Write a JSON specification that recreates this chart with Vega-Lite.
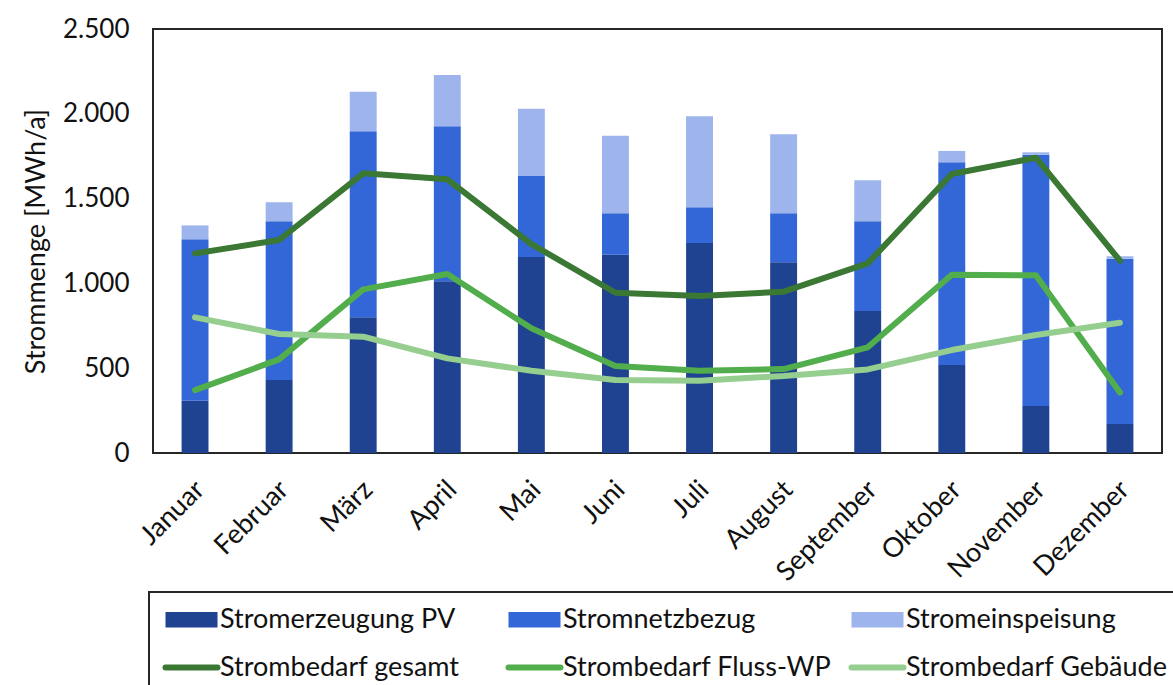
{
  "$schema": "https://vega.github.io/schema/vega-lite/v6.json",
  "autosize": {"type": "none"},
  "width": 1009,
  "height": 424,
  "padding": {"left": 153, "top": 29, "right": 11, "bottom": 232},
  "background": "white",
  "config": {
    "font": "Lato",
    "view": {"stroke": "#262626", "strokeWidth": 2}
  },
  "datasets": {
    "bars": [
      {"Monat": "Januar", "Serie": "Stromerzeugung PV", "Wert": 308, "k": 1},
      {"Monat": "Januar", "Serie": "Stromnetzbezug", "Wert": 952, "k": 2},
      {"Monat": "Januar", "Serie": "Stromeinspeisung", "Wert": 82, "k": 3},
      {"Monat": "Februar", "Serie": "Stromerzeugung PV", "Wert": 430, "k": 1},
      {"Monat": "Februar", "Serie": "Stromnetzbezug", "Wert": 936, "k": 2},
      {"Monat": "Februar", "Serie": "Stromeinspeisung", "Wert": 112, "k": 3},
      {"Monat": "März", "Serie": "Stromerzeugung PV", "Wert": 800, "k": 1},
      {"Monat": "März", "Serie": "Stromnetzbezug", "Wert": 1097, "k": 2},
      {"Monat": "März", "Serie": "Stromeinspeisung", "Wert": 233, "k": 3},
      {"Monat": "April", "Serie": "Stromerzeugung PV", "Wert": 1012, "k": 1},
      {"Monat": "April", "Serie": "Stromnetzbezug", "Wert": 914, "k": 2},
      {"Monat": "April", "Serie": "Stromeinspeisung", "Wert": 303, "k": 3},
      {"Monat": "Mai", "Serie": "Stromerzeugung PV", "Wert": 1156, "k": 1},
      {"Monat": "Mai", "Serie": "Stromnetzbezug", "Wert": 477, "k": 2},
      {"Monat": "Mai", "Serie": "Stromeinspeisung", "Wert": 397, "k": 3},
      {"Monat": "Juni", "Serie": "Stromerzeugung PV", "Wert": 1169, "k": 1},
      {"Monat": "Juni", "Serie": "Stromnetzbezug", "Wert": 244, "k": 2},
      {"Monat": "Juni", "Serie": "Stromeinspeisung", "Wert": 458, "k": 3},
      {"Monat": "Juli", "Serie": "Stromerzeugung PV", "Wert": 1238, "k": 1},
      {"Monat": "Juli", "Serie": "Stromnetzbezug", "Wert": 211, "k": 2},
      {"Monat": "Juli", "Serie": "Stromeinspeisung", "Wert": 536, "k": 3},
      {"Monat": "August", "Serie": "Stromerzeugung PV", "Wert": 1124, "k": 1},
      {"Monat": "August", "Serie": "Stromnetzbezug", "Wert": 289, "k": 2},
      {"Monat": "August", "Serie": "Stromeinspeisung", "Wert": 466, "k": 3},
      {"Monat": "September", "Serie": "Stromerzeugung PV", "Wert": 837, "k": 1},
      {"Monat": "September", "Serie": "Stromnetzbezug", "Wert": 529, "k": 2},
      {"Monat": "September", "Serie": "Stromeinspeisung", "Wert": 242, "k": 3},
      {"Monat": "Oktober", "Serie": "Stromerzeugung PV", "Wert": 519, "k": 1},
      {"Monat": "Oktober", "Serie": "Stromnetzbezug", "Wert": 1195, "k": 2},
      {"Monat": "Oktober", "Serie": "Stromeinspeisung", "Wert": 67, "k": 3},
      {"Monat": "November", "Serie": "Stromerzeugung PV", "Wert": 277, "k": 1},
      {"Monat": "November", "Serie": "Stromnetzbezug", "Wert": 1482, "k": 2},
      {"Monat": "November", "Serie": "Stromeinspeisung", "Wert": 14, "k": 3},
      {"Monat": "Dezember", "Serie": "Stromerzeugung PV", "Wert": 171, "k": 1},
      {"Monat": "Dezember", "Serie": "Stromnetzbezug", "Wert": 975, "k": 2},
      {"Monat": "Dezember", "Serie": "Stromeinspeisung", "Wert": 14, "k": 3}
    ],
    "lines": [
      {"Monat": "Januar", "Serie": "Strombedarf gesamt", "Wert": 1177},
      {"Monat": "Februar", "Serie": "Strombedarf gesamt", "Wert": 1256},
      {"Monat": "März", "Serie": "Strombedarf gesamt", "Wert": 1649},
      {"Monat": "April", "Serie": "Strombedarf gesamt", "Wert": 1614},
      {"Monat": "Mai", "Serie": "Strombedarf gesamt", "Wert": 1232},
      {"Monat": "Juni", "Serie": "Strombedarf gesamt", "Wert": 945},
      {"Monat": "Juli", "Serie": "Strombedarf gesamt", "Wert": 926},
      {"Monat": "August", "Serie": "Strombedarf gesamt", "Wert": 951},
      {"Monat": "September", "Serie": "Strombedarf gesamt", "Wert": 1118},
      {"Monat": "Oktober", "Serie": "Strombedarf gesamt", "Wert": 1645},
      {"Monat": "November", "Serie": "Strombedarf gesamt", "Wert": 1741},
      {"Monat": "Dezember", "Serie": "Strombedarf gesamt", "Wert": 1134},
      {"Monat": "Januar", "Serie": "Strombedarf Fluss-WP", "Wert": 371},
      {"Monat": "Februar", "Serie": "Strombedarf Fluss-WP", "Wert": 552},
      {"Monat": "März", "Serie": "Strombedarf Fluss-WP", "Wert": 965},
      {"Monat": "April", "Serie": "Strombedarf Fluss-WP", "Wert": 1055},
      {"Monat": "Mai", "Serie": "Strombedarf Fluss-WP", "Wert": 735},
      {"Monat": "Juni", "Serie": "Strombedarf Fluss-WP", "Wert": 513},
      {"Monat": "Juli", "Serie": "Strombedarf Fluss-WP", "Wert": 485},
      {"Monat": "August", "Serie": "Strombedarf Fluss-WP", "Wert": 495},
      {"Monat": "September", "Serie": "Strombedarf Fluss-WP", "Wert": 623},
      {"Monat": "Oktober", "Serie": "Strombedarf Fluss-WP", "Wert": 1051},
      {"Monat": "November", "Serie": "Strombedarf Fluss-WP", "Wert": 1048},
      {"Monat": "Dezember", "Serie": "Strombedarf Fluss-WP", "Wert": 356},
      {"Monat": "Januar", "Serie": "Strombedarf Gebäude", "Wert": 800},
      {"Monat": "Februar", "Serie": "Strombedarf Gebäude", "Wert": 702},
      {"Monat": "März", "Serie": "Strombedarf Gebäude", "Wert": 686},
      {"Monat": "April", "Serie": "Strombedarf Gebäude", "Wert": 558},
      {"Monat": "Mai", "Serie": "Strombedarf Gebäude", "Wert": 485},
      {"Monat": "Juni", "Serie": "Strombedarf Gebäude", "Wert": 430},
      {"Monat": "Juli", "Serie": "Strombedarf Gebäude", "Wert": 426},
      {"Monat": "August", "Serie": "Strombedarf Gebäude", "Wert": 454},
      {"Monat": "September", "Serie": "Strombedarf Gebäude", "Wert": 493},
      {"Monat": "Oktober", "Serie": "Strombedarf Gebäude", "Wert": 607},
      {"Monat": "November", "Serie": "Strombedarf Gebäude", "Wert": 696},
      {"Monat": "Dezember", "Serie": "Strombedarf Gebäude", "Wert": 768}
    ]
  },
  "encoding": {
    "x": {
      "field": "Monat",
      "type": "nominal",
      "scale": {
        "domain": ["Januar", "Februar", "März", "April", "Mai", "Juni", "Juli", "August", "September", "Oktober", "November", "Dezember"],
        "paddingInner": 0.68,
        "paddingOuter": 0.34
      },
      "axis": {
        "title": null,
        "labelAngle": -45,
        "labelFontSize": 27,
        "labelPadding": 23,
        "labelOffset": -4,
        "labelColor": "#111111",
        "ticks": false,
        "domain": false,
        "grid": false
      }
    }
  },
  "layer": [
    {
      "data": {"name": "bars"},
      "mark": {"type": "bar"},
      "encoding": {
        "y": {
          "field": "Wert",
          "type": "quantitative",
          "stack": "zero",
          "scale": {"domain": [0, 2500], "nice": false},
          "axis": {
            "title": "Strommenge [MWh/a]",
            "titleFontSize": 27,
            "titleFontWeight": "normal",
            "titleColor": "#111111",
            "titlePadding": 12,
            "values": [0, 500, 1000, 1500, 2000, 2500],
            "labelExpr": "replace(format(datum.value, ','), ',', '.')",
            "labelFontSize": 26,
            "labelColor": "#111111",
            "labelPadding": 24,
            "grid": false,
            "ticks": false,
            "domain": false
          }
        },
        "order": {"field": "k", "type": "quantitative"},
        "color": {
          "field": "Serie",
          "type": "nominal",
          "scale": {
            "domain": ["Stromerzeugung PV", "Stromnetzbezug", "Stromeinspeisung", "Strombedarf gesamt", "Strombedarf Fluss-WP", "Strombedarf Gebäude"],
            "range": ["#1F4391", "#3366D6", "#9DB5EC", "#3A7834", "#52AD4C", "#95CE8F"]
          },
          "legend": {
            "title": null,
            "orient": "none",
            "legendX": -4,
            "legendY": 563,
            "direction": "horizontal",
            "columns": 3,
            "gridAlign": "all",
            "columnPadding": 7,
            "rowPadding": 20,
            "padding": 14,
            "strokeColor": "#262626",
            "labelFont": "Lato",
            "labelFontSize": 27,
            "labelColor": "#111111",
            "labelOffset": 15,
            "labelLimit": 400,
            "symbolOffset": 15,
            "symbolSize": 2704,
            "symbolStrokeWidth": 0,
            "symbolOpacity": 1,
            "encode": {
              "legend": {"update": {"strokeWidth": {"value": 2}}},
              "symbols": {
                "update": {
                  "shape": {"signal": "indexof(['Strombedarf gesamt','Strombedarf Fluss-WP','Strombedarf Gebäude'], datum.value) >= 0 ? 'stroke' : 'M-1,-0.3H1V0.3H-1Z'"},
                  "fill": {"signal": "indexof(['Strombedarf gesamt','Strombedarf Fluss-WP','Strombedarf Gebäude'], datum.value) >= 0 ? 'transparent' : scale('color', datum.value)"},
                  "stroke": {"signal": "indexof(['Strombedarf gesamt','Strombedarf Fluss-WP','Strombedarf Gebäude'], datum.value) >= 0 ? scale('color', datum.value) : 'transparent'"},
                  "strokeWidth": {"signal": "indexof(['Strombedarf gesamt','Strombedarf Fluss-WP','Strombedarf Gebäude'], datum.value) >= 0 ? 6 : 0"},
                  "strokeCap": {"value": "round"},
                  "opacity": {"value": 1}
                }
              }
            }
          }
        }
      }
    },
    {
      "data": {"name": "lines"},
      "mark": {"type": "line", "strokeWidth": 6, "strokeCap": "round", "strokeJoin": "round"},
      "encoding": {
        "y": {"field": "Wert", "type": "quantitative"},
        "color": {"field": "Serie", "type": "nominal"}
      }
    }
  ]
}
